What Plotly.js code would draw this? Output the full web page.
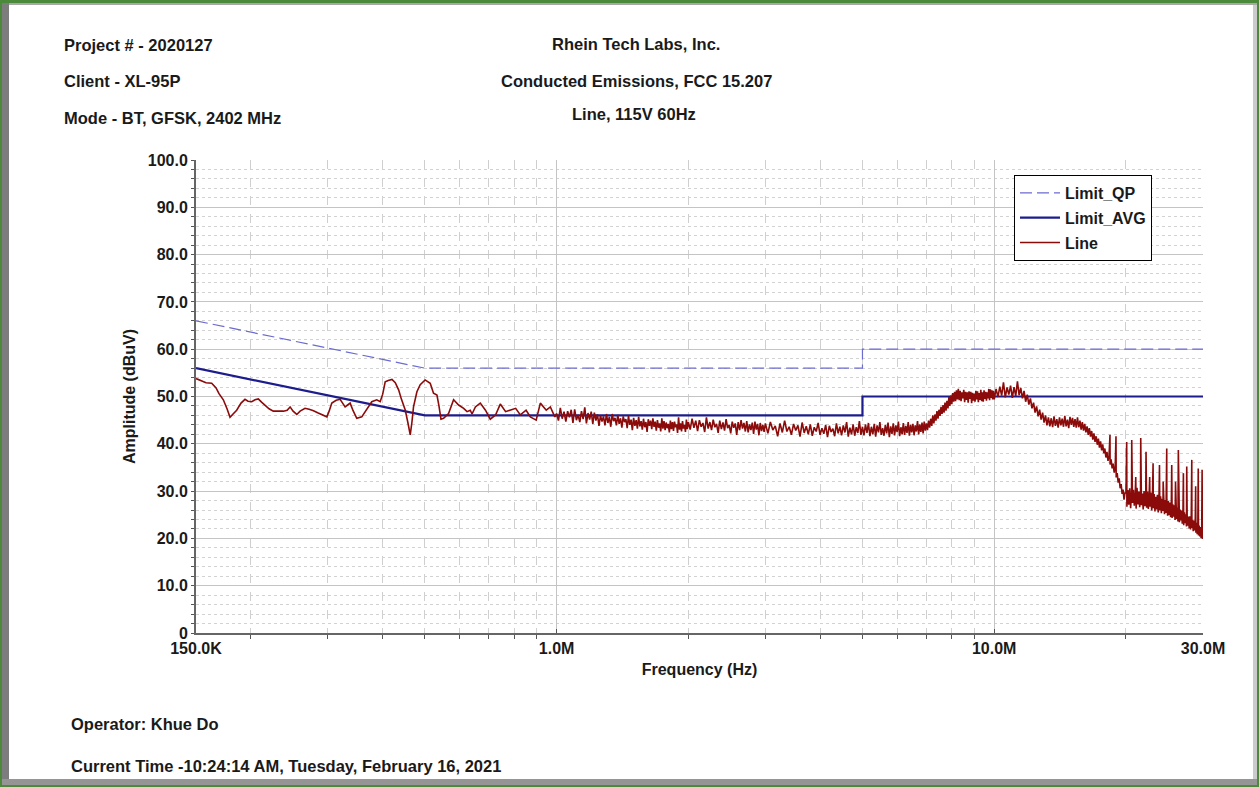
<!DOCTYPE html>
<html>
<head>
<meta charset="utf-8">
<script src="https://cdn.plot.ly/plotly-3.0.1.min.js"></script>
<style>
  html, body { margin:0; padding:0; background:#ffffff; }
  body { width:1259px; height:787px; overflow:hidden; position:relative; }
  #chart { position:absolute; left:0; top:0; width:1259px; height:787px; }
  .fr { position:absolute; pointer-events:none; z-index:10; }
</style>
</head>
<body>
<div id="chart"></div>
<!-- window frame -->
<div class="fr" style="left:0;top:0;width:1259px;height:3px;background:#4a8a3a;"></div>
<div class="fr" style="left:0;top:0;width:2px;height:787px;background:#4a8a3a;"></div>
<div class="fr" style="left:1257px;top:0;width:2px;height:787px;background:#4a8a3a;"></div>
<div class="fr" style="left:0;top:785px;width:1259px;height:2px;background:#4a8a3a;"></div>
<div class="fr" style="left:2px;top:3px;width:7px;height:782px;background:#7d7d7d;"></div>
<div class="fr" style="left:9px;top:3px;width:1248px;height:2px;background:#a8a8a8;"></div>
<div class="fr" style="left:1253px;top:5px;width:4px;height:780px;background:#cbcbcb;"></div>
<div class="fr" style="left:2px;top:779px;width:1255px;height:6px;background:#959595;"></div>
<script>
// ---------- data ----------
const limitFreq = [150e3, 500e3, 5e6, 5e6, 30e6];
const limitQP   = [66, 56, 56, 60, 60];
const limitAVG  = [56, 46, 46, 50, 50];

// 150 kHz - 1 MHz (kHz)
const lowFreqKHz = [150.0,154.6,158.1,162.9,166.7,169.3,173.2,176.6,179.4,182.3,185.8,190.1,194.1,197.2,201.1,204.6,208.2,211.8,215.7,220.3,225.3,231.0,237.6,242.3,246.1,250.0,254.9,259.4,266.2,272.0,278.3,285.3,291.4,298.6,302.2,306.5,313.6,320.2,324.4,328.7,333.1,337.5,342.8,349.5,358.8,367.0,378.2,388.2,395.3,400.6,405.9,412.4,420.6,428.0,435.6,441.8,451.2,457.3,463.0,467.1,471.1,479.6,488.0,500.8,514.4,523.4,532.9,538.6,544.3,551.8,566.5,581.7,597.3,613.3,624.4,635.0,641.0,652.4,669.4,687.9,705.6,725.3,743.7,764.8,784.0,806.4,826.4,851.9,871.1,898.3,918.2,947.1,967.9,990.8];
const lowVal = [53.8,53.2,52.9,52.8,51.8,50.6,49.3,47.4,45.6,46.3,47.1,48.6,49.4,49.0,48.9,49.3,49.5,48.8,48.2,47.4,46.9,46.9,46.9,47.1,47.8,46.9,46.2,46.9,47.5,47.3,47.0,46.5,46.2,45.7,46.9,48.6,49.2,49.4,48.6,47.8,48.2,48.6,47.0,45.4,45.7,47.0,48.9,49.3,48.9,50.5,53.1,53.4,53.6,52.9,51.4,49.5,47.1,44.5,41.9,44.5,47.8,51.0,52.5,53.5,52.8,50.7,50.3,48.0,45.2,45.4,46.4,49.3,48.2,47.5,46.8,47.1,46.3,47.8,48.6,47.1,45.2,46.1,48.4,46.8,47.1,47.5,46.1,47.1,45.7,45.0,48.6,47.1,47.8,45.7];

// 1 - 2 MHz (MHz)
const f1to2 = [
 1.00,1.01,1.02,1.03,1.04,1.05,1.06,1.07,1.08,1.09,
 1.10,1.11,1.12,1.13,1.14,1.15,1.16,1.17,1.18,1.19,
 1.20,1.21,1.22,1.23,1.24,1.25,1.26,1.27,1.28,1.29,
 1.30,1.31,1.32,1.33,1.34,1.35,1.36,1.37,1.38,1.39,
 1.40,1.41,1.42,1.43,1.44,1.45,1.46,1.47,1.48,1.49,
 1.50,1.51,1.52,1.53,1.54,1.55,1.56,1.57,1.58,1.59,
 1.60,1.61,1.62,1.63,1.64,1.65,1.66,1.67,1.68,1.69,
 1.70,1.71,1.72,1.73,1.74,1.75,1.76,1.77,1.78,1.79,
 1.80,1.81,1.82,1.83,1.84,1.85,1.86,1.87,1.88,1.89,
 1.90,1.91,1.92,1.93,1.94,1.95,1.96,1.97,1.98,1.99,
 2.00];
const v1to2 = [
 46.4,44.9,47.6,45.3,46.8,44.7,46.9,45.6,47.2,44.4,
 47.3,45.0,46.1,44.6,46.9,45.2,47.7,44.3,46.5,45.1,
 46.8,44.2,46.6,44.9,46.2,43.8,46.0,44.7,45.8,43.9,
 46.3,44.4,45.7,43.6,46.3,44.8,45.5,43.9,46.1,44.2,
 45.4,43.4,45.8,44.6,45.2,43.3,45.9,44.0,45.1,42.9,
 45.5,43.8,45.0,43.2,45.7,43.7,44.8,43.0,45.3,43.5,
 44.6,42.5,45.2,43.8,44.9,43.1,45.4,43.6,44.7,42.8,
 45.0,43.4,44.3,42.6,45.4,43.2,44.8,42.9,44.5,43.3,
 44.2,42.4,44.9,43.1,44.6,42.7,44.7,43.5,44.1,42.3,
 45.6,43.0,44.3,42.6,44.8,43.2,44.0,42.5,45.1,43.1,
 44.6];

// 2 - 3 MHz
const f2to3 = [
 2.02,2.04,2.06,2.08,2.10,2.12,2.14,2.16,2.18,2.20,
 2.22,2.24,2.26,2.28,2.30,2.32,2.34,2.36,2.38,2.40,
 2.42,2.44,2.46,2.48,2.50,2.52,2.54,2.56,2.58,2.60,
 2.62,2.64,2.66,2.68,2.70,2.72,2.74,2.76,2.78,2.80,
 2.82,2.84,2.86,2.88,2.90,2.92,2.94,2.96,2.98,3.00];
const v2to3 = [
 43.0,45.3,43.4,44.9,42.7,45.0,43.6,44.4,42.5,45.6,
 43.2,44.6,42.9,45.1,43.5,44.2,42.3,44.9,43.1,44.5,
 42.8,45.2,43.3,44.0,42.2,44.7,43.4,44.3,41.9,44.6,
 42.9,45.0,43.2,44.4,42.6,44.8,42.4,44.1,42.9,44.5,
 42.1,44.7,43.0,44.2,41.8,44.4,42.7,44.0,42.5,44.3];

// 3 - 5 MHz
const f3to5 = [
 3.04,3.08,3.12,3.16,3.20,3.24,3.28,3.32,3.36,3.40,
 3.44,3.48,3.52,3.56,3.60,3.64,3.68,3.72,3.76,3.80,
 3.84,3.88,3.92,3.96,4.00,4.04,4.08,4.12,4.16,4.20,
 4.24,4.28,4.32,4.36,4.40,4.44,4.48,4.52,4.56,4.60,
 4.64,4.68,4.72,4.76,4.80,4.84,4.88,4.92,4.96,5.00];
const v3to5 = [
 42.2,44.6,42.9,43.8,41.6,44.3,42.4,44.9,42.6,43.6,
 41.9,44.2,42.8,43.9,41.5,44.5,42.3,43.7,42.0,44.1,
 41.7,43.5,42.6,44.4,41.9,43.3,42.1,44.0,41.4,43.8,
 42.5,43.2,41.6,44.3,42.2,43.6,41.8,43.9,42.4,44.6,
 41.5,43.4,42.0,44.1,41.7,43.5,42.3,44.8,41.9,43.6];

// 5 - 7.5 MHz
const f5to7 = [
 5.04,5.08,5.12,5.16,5.20,5.24,5.28,5.32,5.36,5.40,
 5.44,5.48,5.52,5.56,5.60,5.64,5.68,5.72,5.76,5.80,
 5.84,5.88,5.92,5.96,6.00,6.04,6.08,6.12,6.16,6.20,
 6.24,6.28,6.32,6.36,6.40,6.44,6.48,6.52,6.56,6.60,
 6.64,6.68,6.72,6.76,6.80,6.84,6.88,6.92,6.96,7.00,
 7.04,7.08,7.12,7.16,7.20,7.24,7.28,7.32,7.36,7.40,
 7.44,7.48];
const v5to7 = [
 41.8,44.1,42.3,44.4,41.6,43.6,42.0,44.2,41.5,43.9,
 42.4,44.6,41.9,43.3,41.7,44.0,42.2,44.5,41.4,43.7,
 42.1,44.3,41.8,43.9,42.5,44.7,41.6,43.5,42.0,44.4,
 41.9,43.8,42.3,44.6,41.7,44.0,42.4,44.2,41.8,43.9,
 42.6,44.8,42.0,44.1,42.5,44.5,42.2,44.7,42.8,44.3,
 42.9,44.9,43.4,45.3,43.8,46.0,44.3,46.2,44.9,46.9,
 45.3,47.2];

// 7.5 - 10 MHz
const f7to10 = [
 7.52,7.56,7.60,7.64,7.68,7.72,7.76,7.80,7.84,7.88,
 7.92,7.96,8.00,8.04,8.08,8.12,8.16,8.20,8.24,8.28,
 8.32,8.36,8.40,8.44,8.48,8.52,8.56,8.60,8.64,8.68,
 8.72,8.76,8.80,8.84,8.88,8.92,8.96,9.00,9.04,9.08,
 9.12,9.16,9.20,9.24,9.28,9.32,9.36,9.40,9.44,9.48,
 9.52,9.56,9.60,9.64,9.68,9.72,9.76,9.80,9.84,9.88,
 9.92,9.96];
const v7to10 = [
 45.9,47.8,46.3,48.2,46.6,48.7,47.0,49.1,47.5,49.9,
 48.0,50.2,48.4,50.7,48.9,51.0,49.0,51.3,49.4,51.6,
 49.2,51.2,49.0,50.9,49.6,51.4,48.8,51.0,49.3,50.9,
 48.7,51.1,49.5,51.0,48.6,50.8,49.1,50.6,48.9,51.2,
 49.4,51.1,48.8,50.7,49.3,51.4,49.0,50.9,48.9,51.3,
 49.5,51.0,49.1,50.9,49.6,51.6,49.2,51.5,49.7,51.3,
 49.4,51.2];

// 10 - 20 MHz
const f10to20 = [
 10.0,10.1,10.2,10.3,10.4,10.5,10.6,10.7,10.8,10.9,
 11.0,11.1,11.2,11.3,11.4,11.5,11.6,11.7,11.8,11.9,
 12.0,12.1,12.2,12.3,12.4,12.5,12.6,12.7,12.8,12.9,
 13.0,13.1,13.2,13.3,13.4,13.5,13.6,13.7,13.8,13.9,
 14.0,14.1,14.2,14.3,14.4,14.5,14.6,14.7,14.8,14.9,
 15.0,15.1,15.2,15.3,15.4,15.5,15.6,15.7,15.8,15.9,
 16.0,16.1,16.2,16.3,16.4,16.5,16.6,16.7,16.8,16.9,
 17.0,17.1,17.2,17.3,17.4,17.5,17.6,17.7,17.8,17.9,
 18.0,18.1,18.2,18.3,18.4,18.5,18.6,18.7,18.8,18.9,
 19.0,19.1,19.2,19.3,19.4,19.5,19.6,19.7,19.8,19.9];
const v10to20 = [
 49.4,51.6,49.9,52.1,50.2,53.0,49.8,51.9,50.4,52.3,
 49.7,52.0,50.1,53.2,50.3,51.8,49.6,51.2,48.9,50.4,
 48.3,49.6,47.5,48.7,46.6,47.9,45.8,47.2,45.1,46.6,
 44.5,46.0,43.9,45.6,43.7,45.4,43.5,45.8,43.8,45.2,
 43.4,45.6,43.9,45.3,43.6,45.9,43.7,45.1,43.3,45.7,
 44.0,45.5,43.6,45.2,43.4,45.6,43.5,44.9,43.0,44.6,
 42.8,44.2,42.4,43.7,41.9,43.3,41.5,42.7,40.9,42.2,
 40.4,41.6,39.8,41.1,39.2,40.5,38.6,39.9,38.0,39.0,
 37.1,38.3,36.4,37.5,35.6,36.7,34.8,35.8,33.9,34.9,
 32.9,33.8,31.8,32.7,30.6,31.5,29.4,30.3,28.2,29.6];

// 20 - 30 MHz
const f20to30 = [
 20.0,20.1,20.2,20.3,20.4,20.5,20.6,20.7,20.8,20.9,
 21.0,21.1,21.2,21.3,21.4,21.5,21.6,21.7,21.8,21.9,
 22.0,22.1,22.2,22.3,22.4,22.5,22.6,22.7,22.8,22.9,
 23.0,23.1,23.2,23.3,23.4,23.5,23.6,23.7,23.8,23.9,
 24.0,24.1,24.2,24.3,24.4,24.5,24.6,24.7,24.8,24.9,
 25.0,25.1,25.2,25.3,25.4,25.5,25.6,25.7,25.8,25.9,
 26.0,26.1,26.2,26.3,26.4,26.5,26.6,26.7,26.8,26.9,
 27.0,27.1,27.2,27.3,27.4,27.5,27.6,27.7,27.8,27.9,
 28.0,28.1,28.2,28.3,28.4,28.5,28.6,28.7,28.8,28.9,
 29.0,29.1,29.2,29.3,29.4,29.5,29.6,29.7,29.8,29.9,
 30.0];
const v20to30 = [
 29.6,26.7,30.2,27.1,30.6,26.4,29.8,27.5,30.3,26.9,
 29.4,26.3,30.7,27.2,29.9,26.6,30.1,27.0,29.5,26.1,
 30.0,26.8,29.6,26.5,29.9,26.2,29.3,26.7,29.7,25.9,
 29.1,26.4,29.4,25.7,28.8,26.1,29.2,25.5,28.6,25.9,
 28.9,25.3,28.4,25.8,28.7,25.1,28.1,25.4,28.3,24.8,
 27.9,24.9,27.6,24.5,27.8,24.3,27.2,24.6,27.0,23.9,
 26.8,24.1,26.5,23.6,26.7,23.4,26.1,23.8,25.9,23.1,
 25.7,22.8,25.5,23.2,25.1,22.5,24.9,22.7,24.6,22.1,
 24.7,21.9,24.3,22.2,23.9,21.5,23.8,21.7,23.4,21.2,
 23.3,20.9,23.0,20.6,22.7,20.4,22.4,20.1,22.2,19.9,
 21.6];

// harmonic spikes (MHz, dBuV)
const spikeFreq = [18.39,18.98,20.08,20.62,21.06,21.62,22.23,22.66,23.07,23.86,24.33,24.79,25.45,25.96,26.35,27.06,27.54,28.28,28.86,29.26,29.86];
const spikeVal  = [41.9,41.6,40.4,40.8,33.0,41.2,38.3,33.0,35.9,35.5,32.0,39.0,35.5,32.0,38.7,33.8,35.2,36.6,31.0,34.8,34.5];

// tick labels
const xTickVals = [150e3, 1e6, 10e6, 30e6];
const xTickText = ['150.0K', '1.0M', '10.0M', '30.0M'];
const xMinorVals = [2e5,3e5,4e5,5e5,6e5,7e5,8e5,9e5,2e6,3e6,4e6,5e6,6e6,7e6,8e6,9e6,2e7];
const yTickVals = [0,10,20,30,40,50,60,70,80,90,100];
const yTickText = ['0','10.0','20.0','30.0','40.0','50.0','60.0','70.0','80.0','90.0','100.0'];

// ---------- build line series ----------
let pts = [];
lowFreqKHz.forEach((f,i)=>pts.push([f*1e3, lowVal[i]]));
[[f1to2,v1to2],[f2to3,v2to3],[f3to5,v3to5],[f5to7,v5to7],[f7to10,v7to10],
 [f10to20,v10to20],[f20to30,v20to30],[spikeFreq,spikeVal]]
  .forEach(([fs,vs])=>fs.forEach((f,i)=>{ if (vs[i] !== undefined) pts.push([f*1e6, vs[i]]); }));
pts.sort((a,b)=>a[0]-b[0]);
const lineX = pts.map(p=>p[0]);
const lineY = pts.map(p=>p[1]);

const FONT = 'Liberation Sans, Arial, sans-serif';
const head = {family: FONT, size: 16.5, color: '#1a1a1a', weight: 'bold'};
const bold = {family: FONT, size: 16, color: '#1a1a1a', weight: 'bold'};

const traces = [
  {x: limitFreq, y: limitQP, name: 'Limit_QP', mode: 'lines', legendgroup:'a',
   line: {color: '#6b6bd0', width: 1.2, dash: '12px,5px'}},
  {x: limitFreq, y: limitAVG, name: 'Limit_AVG', mode: 'lines', legendgroup:'b',
   line: {color: '#1c1c8c', width: 2.2}},
  {x: lineX, y: lineY, name: 'Line', mode: 'lines', legendgroup:'c',
   line: {color: '#8b0a0a', width: 1.6}}
];

function ann(text, x, y, xanchor) {
  return {text: text, x: x, y: y, xref: 'paper', yref: 'paper', xanchor: xanchor,
          yanchor: 'middle', showarrow: false, font: head};
}
const L = 196, R = 1203, T = 160, B = 633;
const px = v => (v - L) / (R - L);
const py = v => (B - v) / (B - T);

const layout = {
  width: 1259, height: 787,
  margin: {l: L, r: 1259 - R, t: T, b: 787 - B},
  paper_bgcolor: 'rgba(0,0,0,0)', plot_bgcolor: '#ffffff',
  showlegend: true,
  legend: {x: px(1014), y: py(175), xanchor: 'left', yanchor: 'top',
           bgcolor: '#ffffff', bordercolor: '#000000', borderwidth: 1,
           font: bold, traceorder: 'grouped', tracegroupgap: 1, itemwidth: 40},
  xaxis: {type: 'log', range: [Math.log10(150e3), Math.log10(30e6)],
          tickmode: 'array', tickvals: xTickVals, ticktext: xTickText,
          tickfont: bold, ticks: 'inside', ticklen: 4, tickcolor: '#555',
          showgrid: true, gridcolor: '#c4c4c4', gridwidth: 1,
          showline: true, linecolor: '#666', linewidth: 2, zeroline: false,
          minor: {tickmode: 'array', tickvals: xMinorVals, ticks: 'outside', ticklen: 4,
                  tickcolor: '#555', showgrid: true, gridcolor: '#cfcfcf', griddash: 'dash'},
          title: {text: 'Frequency (Hz)', font: bold, standoff: 8}},
  yaxis: {range: [0, 100], tickmode: 'array', tickvals: yTickVals, ticktext: yTickText,
          tickfont: bold, ticks: 'outside', ticklen: 3, tickcolor: '#555',
          showgrid: true, gridcolor: '#c4c4c4', gridwidth: 1,
          showline: true, linecolor: '#666', linewidth: 2, zeroline: false,
          minor: {dtick: 2, ticks: 'outside', ticklen: 3, tickcolor: '#555',
                  showgrid: true, gridcolor: '#d2d2d2', griddash: 'dot'},
          title: {text: 'Amplitude (dBuV)', font: bold, standoff: 8}},
  annotations: [
    ann('Project # - 2020127', px(62), py(45), 'left'),
    ann('Client - XL-95P', px(62), py(81), 'left'),
    ann('Mode - BT, GFSK, 2402 MHz', px(62), py(118), 'left'),
    ann('Rhein Tech Labs, Inc.', px(636), py(44), 'center'),
    ann('Conducted Emissions, FCC 15.207', px(636), py(81), 'center'),
    ann('Line, 115V 60Hz', px(634), py(114), 'center'),
    ann('Operator: Khue Do', px(69), py(724), 'left'),
    ann('Current Time -10:24:14 AM, Tuesday, February 16, 2021', px(69), py(766), 'left')
  ]
};

Plotly.newPlot('chart', traces, layout, {displayModeBar: false, staticPlot: true});
</script>
</body>
</html>
